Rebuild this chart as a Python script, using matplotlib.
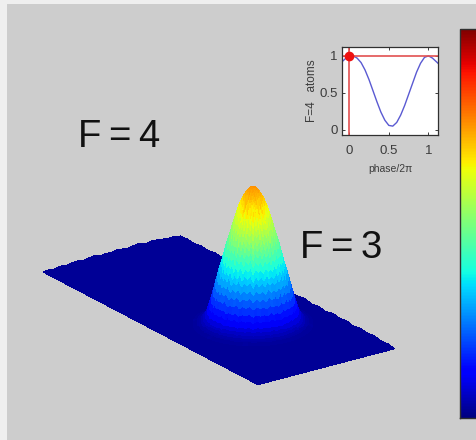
import numpy as np
import matplotlib
matplotlib.use("Agg")
import matplotlib.pyplot as plt
from matplotlib.cm import ScalarMappable
from matplotlib.colors import Normalize
from mpl_toolkits.mplot3d import proj3d

plt.rcParams['font.family'] = ['Liberation Sans', 'DejaVu Sans']

W, H = 476, 440
GRAY = '#cdcdcd'

# inset curve
PHASE = [-0.09, -0.05, 0.0, 0.05, 0.1, 0.15, 0.2, 0.25, 0.3, 0.35, 0.4, 0.45, 0.5,
         0.55, 0.6, 0.65, 0.7, 0.75, 0.8, 0.85, 0.9, 0.95, 1.0, 1.05, 1.12]
ATOMS = [0.92, 0.96, 1.0, 1.0, 0.97, 0.91, 0.81, 0.68, 0.53, 0.38, 0.24, 0.13, 0.06,
         0.05, 0.10, 0.20, 0.33, 0.48, 0.63, 0.78, 0.90, 0.98, 1.0, 0.97, 0.90]
MARK_PHASE = 0.0
MARK_ATOMS = 1.0
XTICKS = [0, 0.5, 1]
YTICKS = [0, 0.5, 1]
XTICKLABELS = ['0', '0.5', '1']
YTICKLABELS = ['0', '0.5', '1']

# surface: floor
SIZE_X, SIZE_Y = 372.0, 168.0
FLOOR_LEVEL = 0.03
EDGE0_Y = [0, 7, 14, 21, 28, 35, 42, 49, 56, 63, 70, 77, 84, 91, 98, 105, 112, 119, 126, 133, 140, 147, 154, 161, 168]
EDGE0_Z = [0.03, 0.035, 0.03, 0.04, 0.032, 0.04, 0.045, 0.035, 0.045, 0.05, 0.038, 0.045, 0.04, 0.05, 0.045, 0.04, 0.05,
           0.055, 0.04, 0.05, 0.045, 0.04, 0.035, 0.04, 0.03]
EDGE1_X = [0, 12, 24, 36, 48, 60, 72, 84, 96, 108, 120, 132, 144, 156, 168, 180, 192, 204, 216, 228, 240, 252, 264, 276,
           288, 300, 312, 324, 336, 348, 360, 372]
EDGE1_Z = [0.03, 0.035, 0.03, 0.038, 0.032, 0.04, 0.034, 0.04, 0.035, 0.042, 0.036, 0.044, 0.035, 0.04, 0.034, 0.045,
           0.036, 0.042, 0.05, 0.038, 0.046, 0.036, 0.05, 0.04, 0.048, 0.036, 0.046, 0.038, 0.044, 0.034, 0.038, 0.03]

# surface: peak, a radial height profile with streaks along the spokes
PEAK_CENTER_X, PEAK_CENTER_Y = 235.0, 91.0
RING_R = [0, 2, 4, 6, 8, 10, 12, 14, 16, 18, 20, 22, 24, 26, 28, 30, 32, 34, 36, 38, 40, 42, 44, 46, 48, 50, 52, 54, 56, 60]
RING_Z = [0.97, 0.965, 0.955, 0.94, 0.92, 0.90, 0.87, 0.84, 0.80, 0.76, 0.72, 0.67, 0.63, 0.59, 0.54, 0.49, 0.44, 0.40,
          0.35, 0.30, 0.25, 0.20, 0.16, 0.12, 0.09, 0.07, 0.055, 0.045, 0.04, 0.03]
SPOKE_DEG = [0, 5, 10, 15, 20, 25, 30, 35, 40, 45, 50, 55, 60, 65, 70, 75, 80, 85, 90, 95, 100, 105, 110, 115, 120, 125,
             130, 135, 140, 145, 150, 155, 160, 165, 170, 175, 180, 185, 190, 195, 200, 205, 210, 215, 220, 225, 230,
             235, 240, 245, 250, 255, 260, 265, 270, 275, 280, 285, 290, 295, 300, 305, 310, 315, 320, 325, 330, 335,
             340, 345, 350, 355, 360]
SPOKE_GAIN = [1.00, 0.95, 1.03, 0.97, 1.04, 0.96, 1.02, 0.94, 1.03, 0.98, 1.05, 0.95, 1.01, 0.97, 1.04, 0.94, 1.02, 0.98,
              1.05, 0.96, 1.00, 0.94, 1.04, 0.97, 1.03, 0.95, 1.02, 0.98, 1.05, 0.94, 1.01, 0.97, 1.04, 0.95, 1.03, 0.98,
              1.02, 0.94, 1.05, 0.96, 1.01, 0.97, 1.04, 0.94, 1.02, 0.98, 1.05, 0.95, 1.00, 0.97, 1.04, 0.94, 1.03, 0.96,
              1.02, 0.98, 1.05, 0.94, 1.01, 0.97, 1.04, 0.95, 1.02, 0.98, 1.05, 0.94, 1.03, 0.97, 1.01, 0.95, 1.04, 0.97, 1.00]
Z_TO_JET_MAX = 1.30

LABEL_F4 = 'F\u2009=\u20094'
LABEL_F3 = 'F\u2009=\u20093'


def rect(x0, y0, x1, y1):
    """pixel box (top-left origin) to figure fraction rect"""
    return [x0 / W, 1 - y1 / H, (x1 - x0) / W, (y1 - y0) / H]


fig = plt.figure(figsize=(W / 100, H / 100), dpi=100, facecolor='#efefef')

# gray panel
bg = fig.add_axes(rect(7, 4, W, H), facecolor=GRAY)
bg.set_axis_off()
bg.add_artist(plt.Rectangle((0, 0), 1, 1, transform=bg.transAxes, color=GRAY, zorder=0))

# 3D surface
ax = fig.add_axes([0, 0, 1, 1], projection='3d', computed_zorder=False)
ax.patch.set_alpha(0)
ax.set_proj_type('ortho')
ax.view_init(elev=21.8, azim=-35.3)
ax.set_box_aspect((SIZE_X, SIZE_Y, 150))
ax.set_xlim(0, SIZE_X)
ax.set_ylim(0, SIZE_Y)
ax.set_zlim(0, 1)
ax.set_axis_off()

norm = Normalize(0, Z_TO_JET_MAX)
FX = np.concatenate(([0.0, 3.0], np.array(EDGE1_X[1:], float)))
FY = np.concatenate((np.array(EDGE0_Y[:-1], float), [165.0, 168.0]))
FXX, FYY = np.meshgrid(FX, FY)
FZ = np.full(FXX.shape, FLOOR_LEVEL)
FZ[:-2, 0] = EDGE0_Z[:-1]
FZ[-1, 0] = EDGE1_Z[0]
FZ[-1, 2:] = EDGE1_Z[1:]
ax.plot_surface(FXX, FYY, FZ, facecolors=plt.cm.jet(norm(np.full(FZ.shape, FLOOR_LEVEL))), rstride=1, cstride=1,
                linewidth=0, antialiased=False, shade=False, zorder=1)

theta = np.deg2rad(SPOKE_DEG)
RR, TT = np.meshgrid(RING_R, theta)
PX = PEAK_CENTER_X + RR * np.cos(TT)
PY = PEAK_CENTER_Y + RR * np.sin(TT)
PZ = np.maximum(np.outer(SPOKE_GAIN, RING_Z), FLOOR_LEVEL)
ax.plot_surface(PX, PY, PZ, cmap='jet', norm=norm, rstride=1, cstride=1,
                linewidth=0, antialiased=False, shade=False, zorder=2)


# fit the 3D axes so the floor corners land where they do in the picture
def px(xw, yw, zw):
    x2, y2, _ = proj3d.proj_transform(xw, yw, zw, ax.get_proj())
    return ax.transData.transform((x2, y2))


for _ in range(3):
    fig.canvas.draw()
    a = px(0, 0, FLOOR_LEVEL)
    b = px(SIZE_X, SIZE_Y, FLOOR_LEVEL)
    ta = np.array([43.0, H - 272.0])
    tb = np.array([395.0, H - 348.0])
    k = (tb[0] - ta[0]) / (b[0] - a[0])
    pos = ax.get_position(original=True)
    w, h = pos.width * W, pos.height * H
    x0, y0 = pos.x0 * W, pos.y0 * H
    nx0 = ta[0] - (a[0] - x0) * k
    ny0 = ta[1] - (a[1] - y0) * k
    ax.set_position([nx0 / W, ny0 / H, w * k / W, h * k / H])

# inset
ins = fig.add_axes(rect(342, 47, 438, 135), facecolor='white')
ins.plot(PHASE, ATOMS, color='#5a5ad2', lw=1.0)
ins.axhline(MARK_ATOMS, color='#e25050', lw=1.2)
ins.axvline(MARK_PHASE, color='#e25050', lw=1.2)
ins.plot([MARK_PHASE], [MARK_ATOMS], 'o', color='#ee1010', ms=6, mec='#ee1010')
ins.set_xlim(-0.09, 1.12)
ins.set_ylim(-0.07, 1.12)
ins.set_xticks(XTICKS, XTICKLABELS)
ins.set_yticks(YTICKS, YTICKLABELS)
ins.tick_params(direction='in', length=2, width=0.7, top=True, right=True, labelsize=9.5,
                colors='#3c3c3c', pad=3)
ins.tick_params(axis='x', pad=7)
for s in ins.spines.values():
    s.set_linewidth(0.9)
    s.set_color('#303030')
ins.set_xlabel('phase/2\u03c0', fontsize=7.5, color='#3c3c3c', labelpad=5)
ins.set_ylabel('F=4   atoms', fontsize=8.5, color='#3c3c3c', labelpad=1)

# colorbar, running off the right edge of the picture
cax = fig.add_axes(rect(460, 29, 500, 418))
cb = fig.colorbar(ScalarMappable(Normalize(0, 1), 'jet'), cax=cax)
cb.set_ticks([])
cb.outline.set_edgecolor('#303030')
cb.outline.set_linewidth(1)

fig.text(78 / W, 1 - 147 / H, LABEL_F4, fontsize=27.5, color='#111111', ha='left', va='baseline')
fig.text(300 / W, 1 - 258 / H, LABEL_F3, fontsize=27.5, color='#111111', ha='left', va='baseline')

fig.savefig('out.png', dpi=100, facecolor=fig.get_facecolor())
